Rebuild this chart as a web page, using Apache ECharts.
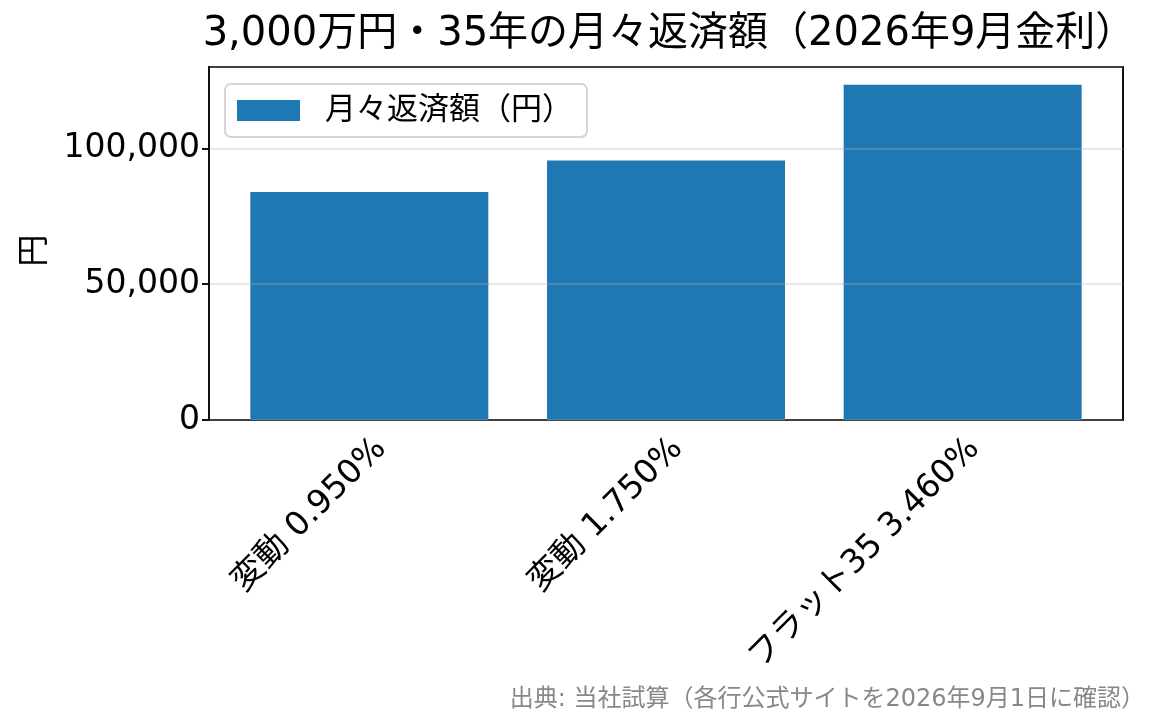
<!DOCTYPE html>
<html lang="ja">
<head>
  <meta charset="UTF-8">
  <title>月々返済額</title>
  <script src="https://cdn.jsdelivr.net/npm/echarts@6/dist/echarts.min.js"></script>
  <style>
    body { margin: 0; padding: 0; background: #fff; }
    #chart { width: 1165px; height: 725px; }
  </style>
</head>
<body>
  <div id="chart"></div>
  <script>
    // データ
    var categories = ['変動 0.950%', '変動 1.750%', 'フラット35 3.460%'];
    var payments = [84000, 95600, 123500];
    var seriesName = '月々返済額（円）';
    var yTicks = [0, 50000, 100000];

    var font = '"DejaVu Sans", "Noto Sans CJK JP", sans-serif';

    var myChart = echarts.init(document.getElementById('chart'));
    var option = {
      animation: false,
      textStyle: { fontFamily: font },
      title: [
        {
          text: '3,000万円・35年の月々返済額（2026年9月金利）',
          left: 664,
          textAlign: 'center',
          top: 10,
          textStyle: { fontFamily: font, fontSize: 40, fontWeight: 'normal', color: '#000' }
        },
        {
          text: '出典: 当社試算（各行公式サイトを2026年9月1日に確認）',
          right: 15,
          bottom: 8,
          textStyle: { fontFamily: font, fontSize: 24, fontWeight: 'normal', color: '#888888' }
        }
      ],
      legend: {
        data: [{ name: seriesName, icon: 'rect' }],
        left: 225,
        top: 84,
        orient: 'vertical',
        itemWidth: 63,
        itemHeight: 21,
        padding: [11, 14, 11, 12],
        borderColor: '#d5d5d5',
        borderWidth: 2,
        borderRadius: 6,
        backgroundColor: 'rgba(255,255,255,0.8)',
        textStyle: { fontFamily: font, fontSize: 31, color: '#000', padding: [0, 0, 0, 20] }
      },
      // grid 0: frame + y axis, grid 1: bars + category axis (matplotlib-style margins)
      grid: [
        {
          left: 209, right: 42, top: 67, bottom: 305,
          show: true, borderColor: '#111', borderWidth: 2, backgroundColor: 'transparent'
        },
        {
          left: 221, right: 54, top: 67, bottom: 305
        }
      ],
      xAxis: [
        {
          gridIndex: 0,
          type: 'category',
          data: categories,
          show: false
        },
        {
          gridIndex: 1,
          type: 'category',
          data: categories,
          axisLine: { show: false },
          axisTick: { alignWithLabel: true, length: 7, lineStyle: { color: '#111', width: 2 } },
          axisLabel: {
            rotate: 45, fontSize: 33, color: '#000', margin: 12, fontFamily: font,
            verticalAlign: 'top'
          }
        }
      ],
      yAxis: [
        {
          gridIndex: 0,
          type: 'value',
          min: 0,
          max: 130000,
          interval: 50000,
          z: 3,
          name: '円',
          nameLocation: 'middle',
          nameGap: 157,
          nameTextStyle: { fontSize: 32, color: '#000', fontFamily: font, padding: [0, 14, 0, 0] },
          axisLine: { show: true, lineStyle: { color: '#111', width: 2 } },
          axisTick: { show: true, length: 7, lineStyle: { color: '#111', width: 2 } },
          axisLabel: {
            fontSize: 33,
            color: '#000',
            margin: 9,
            fontFamily: font,
            showMaxLabel: false,
            formatter: function (v) {
              return yTicks.indexOf(v) >= 0 ? v.toLocaleString('en-US') : '';
            }
          },
          splitLine: { show: true, lineStyle: { color: 'rgba(176,176,176,0.3)', width: 2 } }
        },
        {
          gridIndex: 1,
          type: 'value',
          min: 0,
          max: 130000,
          show: false,
          splitLine: { show: false }
        }
      ],
      series: [
        {
          name: seriesName,
          type: 'bar',
          xAxisIndex: 1,
          yAxisIndex: 1,
          data: payments,
          barWidth: 238,
          itemStyle: { color: '#1f77b4' }
        }
      ]
    };
    myChart.setOption(option);
  </script>
</body>
</html>
